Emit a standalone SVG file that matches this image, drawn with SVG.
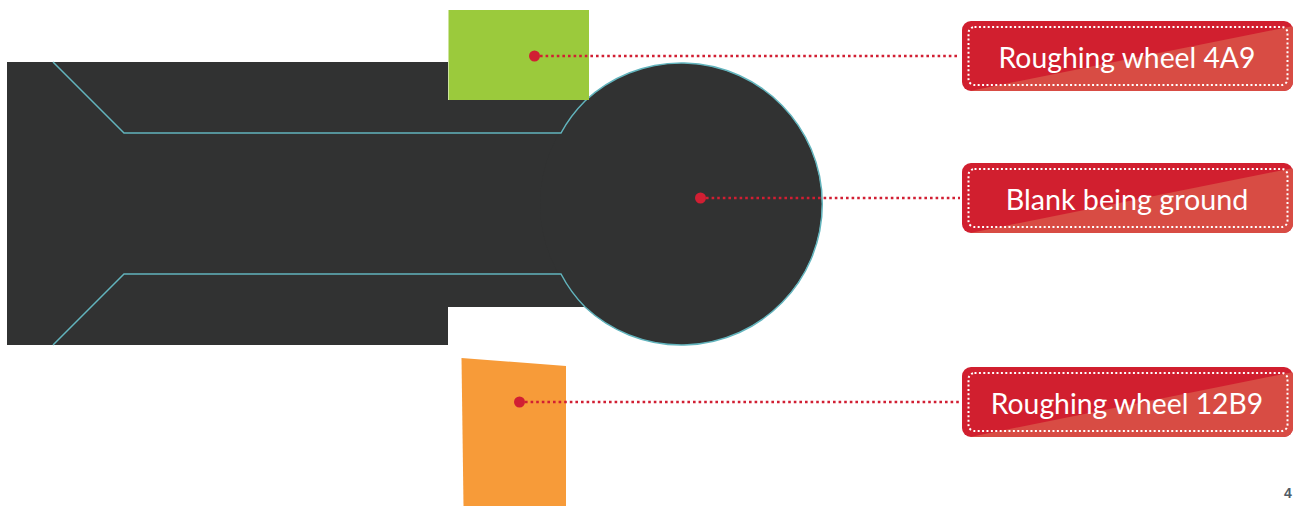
<svg xmlns="http://www.w3.org/2000/svg" width="1296" height="506" viewBox="0 0 1296 506">
<style>
.teal{fill:none;stroke:#62b4bd;stroke-width:1.500}
.lead{fill:none;stroke:#d11f33;stroke-width:2.600;stroke-dasharray:2.600 3}
.dot{fill:#d11f33}
.box{fill:#d11f2f}
.tri{fill:#d84c44}
.inner{fill:none;stroke:#fff;stroke-width:2;stroke-dasharray:2 2.400;stroke-linecap:butt}
.lbl{font-family:"Lato","Noto Sans",sans-serif;font-size:28.300px;fill:#fff;text-anchor:middle}
</style>
<rect width="1296" height="506" fill="#fff"/>
<g id="blank">
<path d="M7 62H448V100H590V307H448V345H7Z" fill="#313232"/>
<circle cx="681" cy="204" r="141" fill="#313232"/>
<path class="teal" d="M53 62L124 133H561A139.500 139.500 0 0 1 585 101A141 141 0 1 1 585 307A139.500 139.500 0 0 1 561 274H124L53 345"/>
</g>
<g id="wheel-4a9"><rect x="448.500" y="10" width="140.500" height="90" fill="#9bca3c"/></g>
<g id="wheel-12b9"><path d="M461.500 358L566 366V506H463.500Z" fill="#f79b39"/></g>
<g id="connectors">
<path class="lead" d="M540 56H960"/>
<path class="lead" d="M706 198H960"/>
<path class="lead" d="M525 402H960"/>
<circle class="dot" cx="534.500" cy="56" r="5.500"/>
<circle class="dot" cx="700.500" cy="198" r="5.500"/>
<circle class="dot" cx="519.500" cy="402" r="5.500"/>
</g>
<defs>
<clipPath id="c1"><rect x="962" y="21" width="331" height="70" rx="9"/></clipPath>
<clipPath id="c2"><rect x="962" y="163" width="331" height="70" rx="9"/></clipPath>
<clipPath id="c3"><rect x="962" y="367" width="331" height="70" rx="9"/></clipPath>
</defs>
<g id="label-4a9">
<rect class="box" x="962" y="21" width="331" height="70" rx="9"/>
<path class="tri" clip-path="url(#c1)" d="M970 91L1293 26V91Z"/>
<rect class="inner" x="968.500" y="27" width="319" height="58" rx="6"/>
<text class="lbl" x="1127" y="68">Roughing wheel 4A9</text>
</g>
<g id="label-blank">
<rect class="box" x="962" y="163" width="331" height="70" rx="9"/>
<path class="tri" clip-path="url(#c2)" d="M970 233L1293 168V233Z"/>
<rect class="inner" x="968.500" y="169" width="319" height="58" rx="6"/>
<text class="lbl" x="1127" y="210" style="font-size:28.700px">Blank being ground</text>
</g>
<g id="label-12b9">
<rect class="box" x="962" y="367" width="331" height="70" rx="9"/>
<path class="tri" clip-path="url(#c3)" d="M970 437L1293 372V437Z"/>
<rect class="inner" x="968.500" y="373" width="319" height="58" rx="6"/>
<text class="lbl" x="1127" y="414">Roughing wheel 12B9</text>
</g>
<text x="1288" y="498" font-family="'Liberation Sans',Arial,sans-serif" font-size="14" font-weight="700" fill="#4f5b68" text-anchor="middle">4</text>
</svg>
